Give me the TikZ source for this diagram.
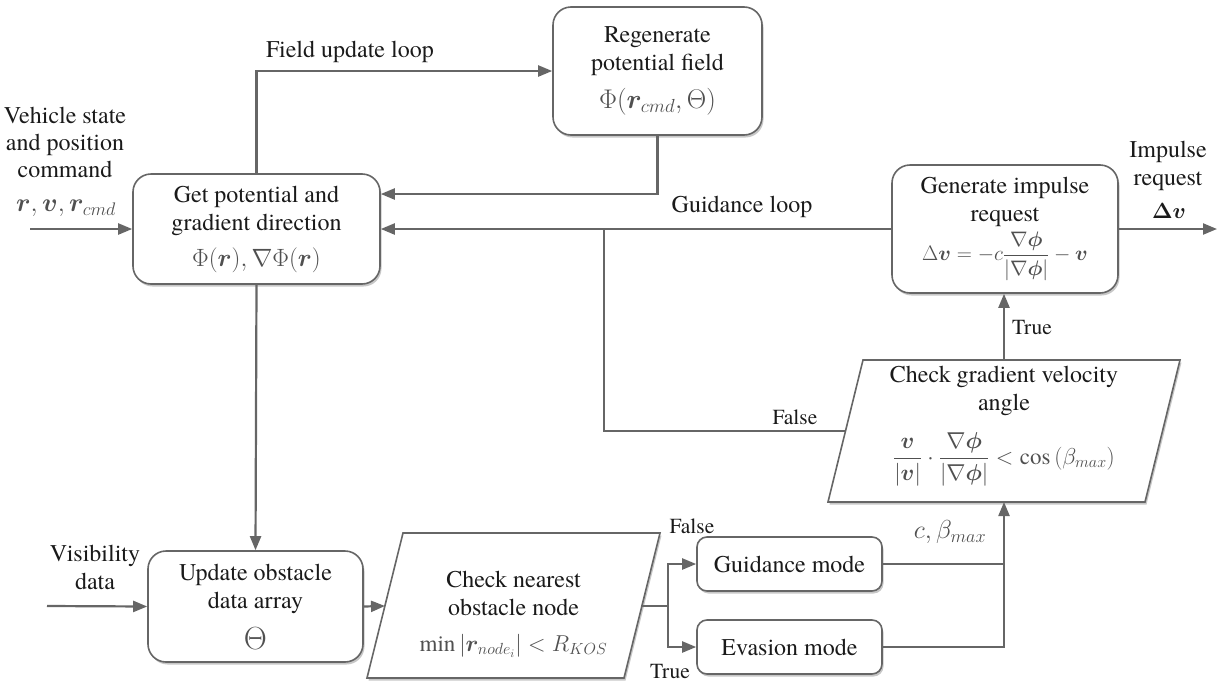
\RequirePackage{fix-cm}
\documentclass[tikz,border=0pt]{standalone}
\usepackage{amsmath,bm}
\usepackage{fontspec}
\setmainfont{texgyretermes}[Extension=.otf, UprightFont=*-regular, BoldFont=*-bold, ItalicFont=*-italic, BoldItalicFont=*-bolditalic]
\usetikzlibrary{arrows.meta,shadows,calc}
\definecolor{linegray}{HTML}{666666}
\definecolor{textc}{HTML}{1A1A1A}
\definecolor{mathc}{HTML}{505050}
\newcommand{\mth}[1]{{\color{mathc}$#1$}}
\newcommand{\fs}[1]{\fontsize{#1}{#1}\selectfont}
\tikzset{
  shade box/.style={drop shadow={shadow xshift=1.5pt, shadow yshift=-2.5pt, opacity=0.22, fill=black}},
  procbox/.style={draw=linegray, line width=1.6pt, rounded corners=18pt, fill=white,
    align=center, text=textc, inner sep=0pt, shade box},
  modebox/.style={procbox, rounded corners=10pt, minimum width=185pt, minimum height=54pt},
  decpath/.style={draw=linegray, line width=1.6pt, fill=white, shade box},
  plain/.style={align=center, text=textc, inner sep=0pt},
  flow/.style={draw=linegray, line width=2.2pt},
  arr/.style={flow, -{Triangle[length=14pt,width=11pt]}},
  small/.style={font=\rmfamily\fontsize{21.5}{24}\selectfont}
}
\begin{document}
\begin{tikzpicture}[x=1pt, y=-1pt, font=\rmfamily\fontsize{24}{28}\selectfont]
\useasboundingbox (0,0) rectangle (1224,683);

% decision shapes (parallelograms)
\path[decpath] (828,502) -- (863,360) -- (1180,360) -- (1145,502) -- cycle;
\path[decpath] (367,678) -- (403,533) -- (660,533) -- (624,678) -- cycle;
\coordinate (cgN) at (1004,360);
\coordinate (cgS) at (1004,502);
\coordinate (cgW) at (845.5,431);
\coordinate (cnW) at (385,606);
\coordinate (cnE) at (642,606);

% process boxes
\node[procbox, minimum width=247pt, minimum height=110pt] (get) at (256.5,229)
  {Get potential and\\gradient direction\\[8pt]{\fs{25}\mth{\Phi(\bm r), \nabla\Phi(\bm r)}}};
\node[procbox, minimum width=209pt, minimum height=128pt] (regen) at (657.5,71)
  {Regenerate\\potential field\\[10pt]{\fs{27}\mth{\Phi(\bm r_{cmd},\Theta)}}};
\node[procbox, minimum width=226pt, minimum height=128pt] (gen) at (1005,229)
  {Generate impulse\\request\\[4pt]{\fs{21}\mth{\Delta\bm v = -c\dfrac{\nabla\bm\phi}{|\nabla\bm\phi|}-\bm v}}};
\node[procbox, minimum width=215pt, minimum height=111pt] (update) at (255.5,606.5)
  {Update obstacle\\data array\\[13pt]{\fs{32}\mth{\Theta}}};
\node[modebox] (guid) at (789.5,564) {Guidance mode};
\node[modebox] (evas) at (789.5,647) {Evasion mode};

% decision texts
\node[plain] (cg) at (1004,426)
  {Check gradient velocity\\angle\\[16pt]{\fs{23}\mth{\dfrac{\bm v}{|\bm v|}\cdot\dfrac{\nabla\bm\phi}{|\nabla\bm\phi|}<\cos\left(\beta_{max}\right)}}};
\node[plain] (cn) at (513.5,614)
  {Check nearest\\obstacle node\\[8pt]{\fs{23}\mth{\min|\bm r_{node_i}|<R_{KOS}}}};

% inputs and outputs
\coordinate (vin) at (30,229);
\coordinate (visin) at (47,606);
\coordinate (out) at (1217,229);
\coordinate (jn) at (604,229);
\coordinate (br) at (668,606);

\node[plain] (vtxt) at (65,142) {Vehicle state\\[-1pt]and position\\[-1pt]command};
\node[plain] (vmath) at (66,208) {{\fs{26}\mth{\bm r, \bm v, \bm r_{cmd}}}};
\node[plain] (vistxt) at (95,567) {Visibility\\data};
\node[plain] (imptxt) at (1168,166) {Impulse\\request};
\node[plain] (impmath) at (1169,211) {{\fs{22}$\bm{\Delta}\bm v$}};

% connectors
\draw[arr] (vin) -- (vin -| get.west);
\draw[arr] (get.north) |- (regen.west);
\draw[arr] (regen.south) |- ([yshift=35pt]get.east);
\draw[arr] (gen.west) -- (get.east);
\draw[arr] (gen.east) -- (out);
\draw[arr] (cgN) -- (cgN |- gen.south);
\draw[flow] (cgW) -| (jn);
\draw[arr] (get.south) -- (update.north);
\draw[arr] (visin) -- (update.west);
\draw[arr] (update.east) -- (cnW);
\draw[flow] (cnE) -- (br);
\draw[arr] (br) |- (guid.west);
\draw[arr] (br) |- (evas.west);
\draw[flow] (guid.east) -- (guid.east -| cgS);
\draw[arr] (evas.east) -| (cgS);

% connector labels
\node[plain] (lfield) at (350,52) {Field update loop};
\node[plain] (lguid) at (742,207) {Guidance loop};
\node[plain, small] (lfalse1) at (795,417) {False};
\node[plain, small] (ltrue1) at (1032,327) {True};
\node[plain, small] (lfalse2) at (692,526) {False};
\node[plain, small] (ltrue2) at (670,671) {True};
\node[plain] (lcb) at (950,532) {{\fs{26}\mth{c, \beta_{max}}}};
\end{tikzpicture}
\end{document}
